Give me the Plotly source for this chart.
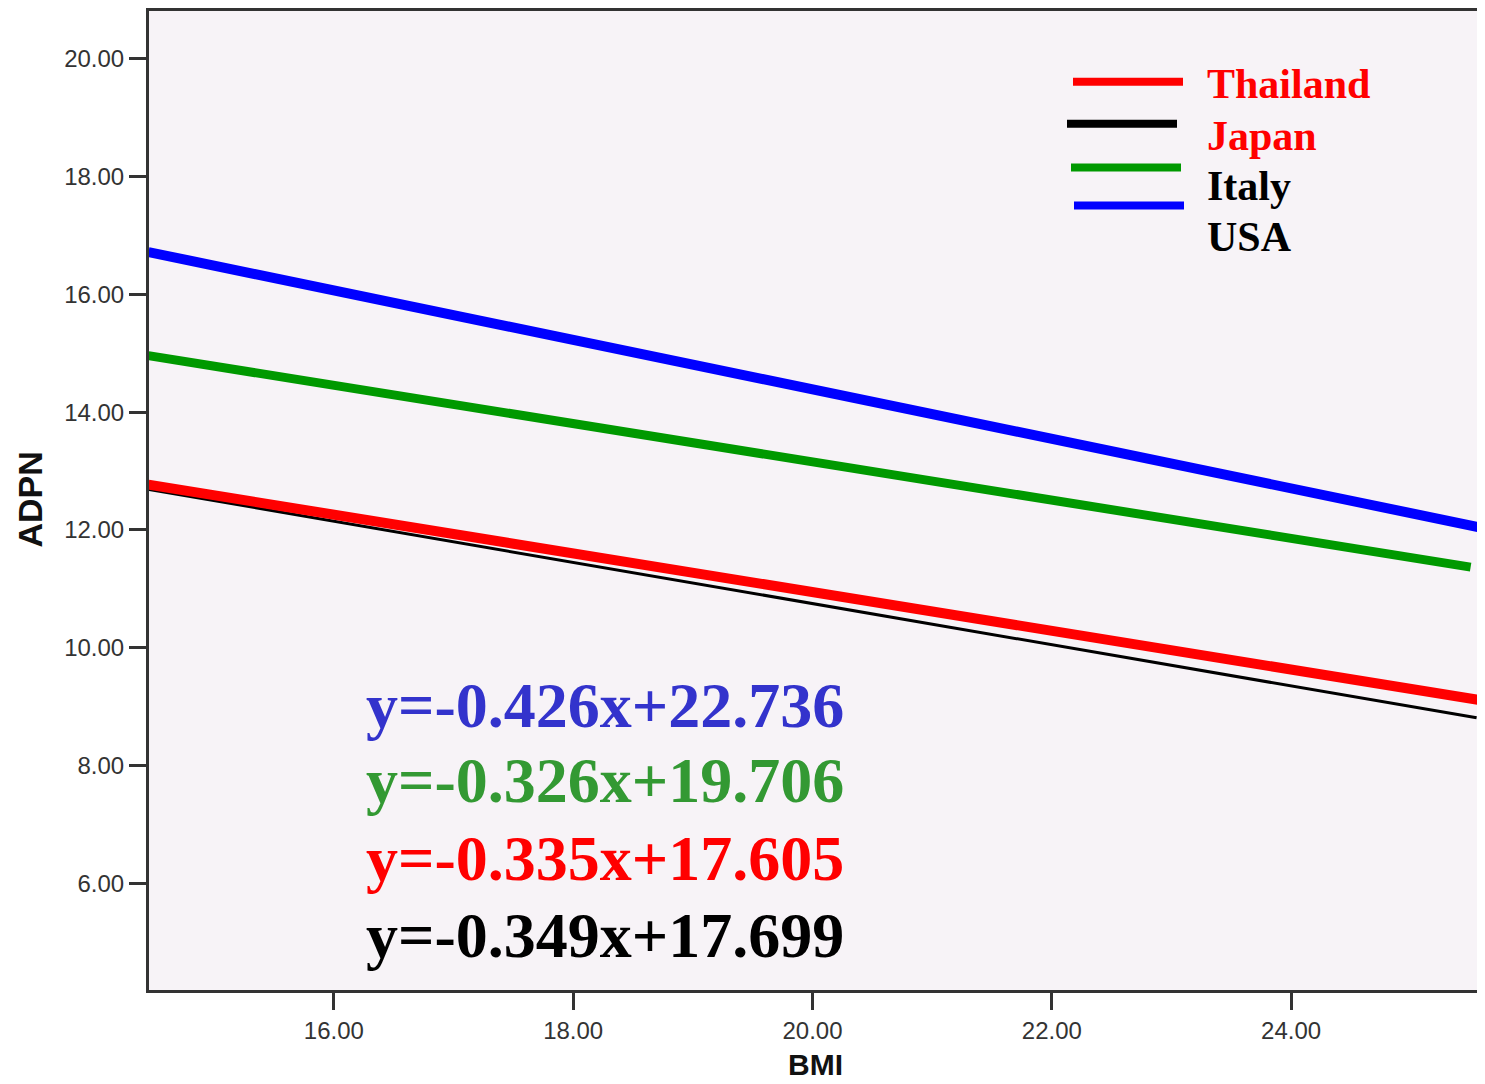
import plotly.graph_objects as go

# ---- data ----
countries = ["Japan", "Thailand", "Italy", "USA"]
line_colors = ["#000000", "#FF0000", "#009900", "#0000FF"]
line_widths = [3, 10, 9, 10]
bmi_start = [14.45, 14.45, 14.45, 14.45]
bmi_end = [25.55, 25.61, 25.50, 25.61]
adpn_start = [12.69, 12.77, 14.96, 16.72]
adpn_end = [8.81, 9.10, 11.37, 12.03]

x_ticks = [16, 18, 20, 22, 24]
y_ticks = [6, 8, 10, 12, 14, 16, 18, 20]

equations = ["y=-0.426x+22.736", "y=-0.326x+19.706", "y=-0.335x+17.605", "y=-0.349x+17.699"]
equation_colors = ["#3333CC", "#339933", "#FF0000", "#000000"]

legend_labels = ["Thailand", "Japan", "Italy", "USA"]
legend_text_colors = ["#FF0000", "#FF0000", "#000000", "#000000"]
legend_swatch_colors = ["#FF0000", "#000000", "#009900", "#0000FF"]

# ---- layout geometry (pixels, in the reference picture's coordinates) ----
OFF = 8  # page body margin
W, H = 1485 - OFF, 1084 - OFF
L, R, T, B = 149 - OFF, 1479 - OFF, 8 - OFF, 990 - OFF
PW, PH = R - L, B - T


def px(xp):
    return (xp - OFF - L) / PW


def py(yp):
    return (B - (yp - OFF)) / PH


fig = go.Figure()
for name, c, w, x0, x1, y0, y1 in zip(countries, line_colors, line_widths,
                                       bmi_start, bmi_end, adpn_start, adpn_end):
    fig.add_trace(go.Scatter(x=[x0, x1], y=[y0, y1], mode="lines", name=name,
                             line=dict(color=c, width=w), showlegend=False))

# legend swatches (custom, as in the reference)
sw_y = [79, 121, 165, 203]
sw_x0 = [1073, 1067, 1071, 1074]
for c, yy, xx in zip(legend_swatch_colors, sw_y, sw_x0):
    fig.add_shape(type="line", xref="paper", yref="paper",
                  x0=px(xx), x1=px(xx + 110), y0=py(yy), y1=py(yy),
                  line=dict(color=c, width=8))

lab_y = [81, 133, 184, 235]
for t, c, yy in zip(legend_labels, legend_text_colors, lab_y):
    fig.add_annotation(text=t, xref="paper", yref="paper", x=px(1205), y=py(yy),
                       xanchor="left", yanchor="middle", showarrow=False,
                       font=dict(family="Liberation Serif", size=42, color=c, weight="bold"))

eq_y = [705, 780, 858, 935]
for t, c, yy in zip(equations, equation_colors, eq_y):
    fig.add_annotation(text=t, xref="paper", yref="paper", x=px(364), y=py(yy),
                       xanchor="left", yanchor="middle", showarrow=False,
                       font=dict(family="Liberation Serif", size=64, color=c, weight="bold"))

# axis titles
fig.add_annotation(text="ADPN", xref="paper", yref="paper", x=px(30), y=py(498),
                   textangle=-90, showarrow=False, xanchor="center", yanchor="middle",
                   font=dict(family="Liberation Sans", size=34, color="#111", weight="bold"))
fig.add_annotation(text="BMI", xref="paper", yref="paper", x=px(815), y=py(1065),
                   showarrow=False, xanchor="center", yanchor="middle",
                   font=dict(family="Liberation Sans", size=30, color="#111", weight="bold"))

axis_common = dict(showgrid=False, zeroline=False, showline=True, mirror=True,
                   linecolor="#333333", linewidth=3, ticks="outside", ticklen=17,
                   tickwidth=3, tickcolor="#333333",
                   tickfont=dict(family="Liberation Sans", size=24, color="#333333"))

fig.update_layout(
    width=W, height=H,
    margin=dict(l=L, r=W - R, t=T, b=H - B, pad=0),
    paper_bgcolor="white", plot_bgcolor="#F7F3F7",
    xaxis=dict(range=[14.455, 25.57], tickvals=x_ticks,
               ticktext=[f"{v:.2f}" for v in x_ticks], **axis_common),
    yaxis=dict(range=[4.188, 20.813], tickvals=y_ticks,
               ticktext=[f"{v:.2f}" for v in y_ticks], **axis_common),
)

fig.write_html("out.html")
